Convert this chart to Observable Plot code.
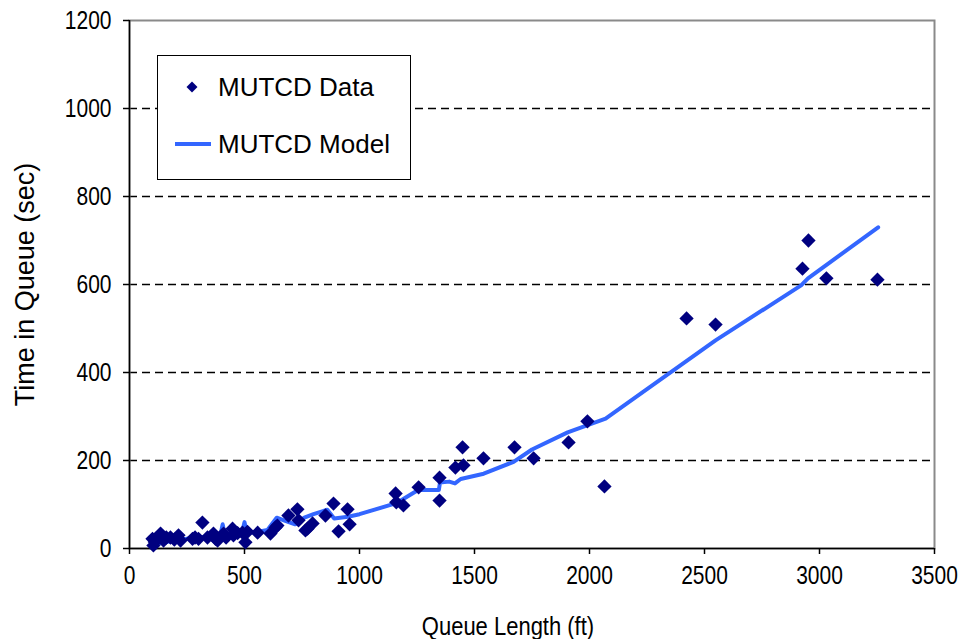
<!DOCTYPE html>
<html>
<head>
<meta charset="utf-8">
<script src="https://cdn.jsdelivr.net/npm/d3@7"></script>
<script src="https://cdn.jsdelivr.net/npm/@observablehq/plot@0.6"></script>
<style>
  html, body { margin: 0; padding: 0; background: #fff; }
  #wrap { position: relative; width: 967px; height: 639px; font-family: "Liberation Sans", Arial, sans-serif; }
  #legend { position: absolute; left: 157px; top: 55px; }
</style>
</head>
<body>
<div id="wrap"></div>
<script>
// MUTCD observed data (queue length ft, time in queue sec)
const dataLength = [100,104,110,135,148,160,178,195,213,222,274,285,300,317,339,365,374,383,409,420,448,452,470,491,504,513,557,613,635,643,691,730,735,765,774,796,852,887,909,948,957,1157,1160,1191,1257,1348,1348,1417,1448,1452,1539,1674,1757,1909,1991,2065,2422,2548,2926,2952,3030,3252];
const dataTime   = [22,7,15,34,18,25,25,20,30,18,22,25,22,59,25,34,22,18,34,25,45,30,35,36,14,38,36,34,48,52,75,89,64,41,45,57,75,102,39,89,55,125,105,98,139,161,109,184,230,189,205,230,205,241,289,141,523,509,636,700,614,611];

// MUTCD model curve
const modelLength = [100,150,200,250,300,360,395,405,415,450,490,500,510,560,600,640,680,720,760,800,860,890,950,1000,1160,1255,1345,1350,1390,1415,1440,1540,1670,1750,1905,2070,2250,2548,2920,2950,3255];
const modelTime   = [8,14,18,22,25,28,30,55,30,35,38,60,35,38,42,70,62,55,70,78,88,68,72,78,103,133,133,150,152,148,158,170,197,225,264,295,362,473,598,614,730];

const xTicks = [0,500,1000,1500,2000,2500,3000,3500];
const yTicks = [0,200,400,600,800,1000,1200];
const gridTicks = [200,400,600,800,1000];

const seriesNames = ["MUTCD Data", "MUTCD Model"];
const xTitle = "Queue Length (ft)";
const yTitle = "Time in Queue (sec)";

const points = dataLength.map((x, i) => ({x, y: dataTime[i]}));
const model = modelLength.map((x, i) => ({x, y: modelTime[i]}));

const dotColor = "#000080";
const lineColor = "#3366ff";
const font = "'Liberation Sans', Arial, sans-serif";

const chart = Plot.plot({
  width: 967,
  height: 639,
  marginLeft: 129,
  marginRight: 33,
  marginTop: 20,
  marginBottom: 91,
  style: {fontFamily: font, fontSize: "21px", background: "white", color: "black", overflow: "visible"},
  x: {domain: [0, 3500]},
  y: {domain: [0, 1200]},
  marks: [
    Plot.gridY(gridTicks, {stroke: "black", strokeOpacity: 1, strokeWidth: 1.5, strokeDasharray: "8,5"}),
    Plot.frame({stroke: "#8a8a8a", strokeWidth: 2}),
    Plot.ruleX([0], {stroke: "black", strokeWidth: 1.5}),
    Plot.ruleY([0], {stroke: "black", strokeWidth: 1.5}),
    Plot.axisX(xTicks, {tickSize: 6, tickPadding: 13, strokeWidth: 1.5, fontSize: 21, fill: "black", tickFormat: d3.format("d"),
      label: xTitle, labelAnchor: "center", labelArrow: "none", labelOffset: 85}),
    Plot.axisY(yTicks, {tickSize: 6, tickPadding: 12, strokeWidth: 1.5, fontSize: 21, fill: "black", tickFormat: d3.format("d"),
      label: yTitle, labelAnchor: "center", labelArrow: "none", labelOffset: 115}),
    Plot.line(model, {x: "x", y: "y", stroke: lineColor, strokeWidth: 4}),
    Plot.dot(points, {x: "x", y: "y", symbol: "square", rotate: 45, r: 5.7, fill: dotColor, stroke: "none"})
  ]
});
document.getElementById("wrap").appendChild(chart);
// axis titles sized like the reference
d3.select(chart).selectAll("[aria-label='x-axis label'] text")
  .attr("font-size", 22).attr("fill", "black").attr("dx", -24);
d3.select(chart).selectAll("[aria-label='y-axis label'] text")
  .attr("font-size", 27).attr("fill", "black");
// the reference's horizontal texts are slightly tall and narrow: stretch them vertically
d3.select(chart).selectAll("[aria-label='x-axis tick label'] text, [aria-label='y-axis tick label'] text, [aria-label='x-axis label'] text").each(function() {
  const b = this.getBBox();
  const cx = b.x + b.width / 2, cy = b.y + b.height / 2;
  const old = this.getAttribute("transform") || "";
  this.setAttribute("transform", `${old} translate(${cx},${cy}) scale(1,1.2) translate(${-cx},${-cy})`);
});

// Legend (inside plot area, top-left)
const lg = d3.select("#wrap").append("svg")
  .attr("id", "legend")
  .attr("width", 254).attr("height", 125)
  .style("font-family", font)
  .style("font-size", "26px");
lg.append("rect").attr("x", 0.5).attr("y", 0.5).attr("width", 253).attr("height", 124)
  .attr("fill", "white").attr("stroke", "black").attr("stroke-width", 1);
lg.append("path").attr("d", d3.symbol(d3.symbolSquare, 60)()).attr("transform", "translate(35,32) rotate(45)").attr("fill", dotColor);
lg.append("line").attr("x1", 18).attr("x2", 54).attr("y1", 89).attr("y2", 89).attr("stroke", lineColor).attr("stroke-width", 4);
lg.append("text").attr("x", 61).attr("y", 41).text(seriesNames[0]);
lg.append("text").attr("x", 61).attr("y", 98).text(seriesNames[1]);
</script>
</body>
</html>
